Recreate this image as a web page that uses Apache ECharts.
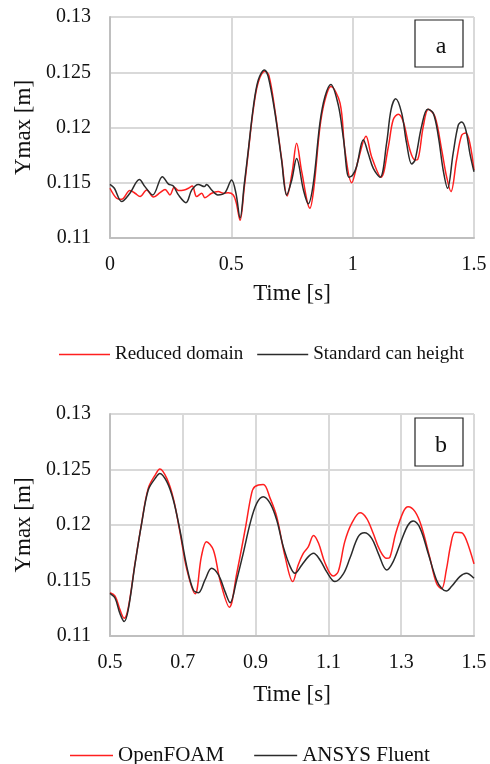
<!DOCTYPE html>
<html>
<head>
<meta charset="utf-8">
<script src="https://cdn.jsdelivr.net/npm/echarts@6/dist/echarts.min.js"></script>
<style>
html,body{margin:0;padding:0;background:#fff;}
#chart{width:490px;height:764px;}
</style>
</head>
<body>
<div id="chart"></div>
<script>
// ---- Panel (a) ----
var timeA_std = [0, 0.018, 0.048, 0.082, 0.121, 0.144, 0.176, 0.216, 0.24, 0.261, 0.282, 0.313, 0.337, 0.364, 0.389, 0.398, 0.419, 0.444, 0.474, 0.501, 0.519, 0.536, 0.553, 0.570, 0.591, 0.611, 0.636, 0.652, 0.68, 0.707, 0.728, 0.749, 0.769, 0.797, 0.817, 0.838, 0.865, 0.886, 0.91, 0.941, 0.962, 0.985, 1.0, 1.016, 1.044, 1.064, 1.085, 1.113, 1.14, 1.158, 1.177, 1.202, 1.222, 1.243, 1.257, 1.284, 1.309, 1.332, 1.353, 1.373, 1.391, 1.414, 1.435, 1.449, 1.466, 1.483, 1.5];
var ymaxA_std = [114.86, 114.5, 113.3, 114.05, 115.3, 114.65, 113.9, 115.55, 114.9, 114.7, 113.9, 113.2, 114.35, 114.85, 114.65, 114.85, 114.35, 113.9, 114.1, 115.25, 114.05, 111.8, 114.8, 117.96, 121.9, 124.3, 125.2, 124.6, 121.3, 117.06, 113.9, 115.25, 117.2, 114.35, 113.1, 114.95, 120.4, 122.8, 123.9, 122.0, 119.0, 115.5, 115.7, 116.45, 118.9, 117.66, 116.3, 115.5, 118.6, 121.6, 122.6, 121.3, 118.6, 116.7, 117.06, 120.1, 121.65, 121.3, 119.2, 116.15, 114.5, 117.66, 120.2, 120.5, 119.8, 117.66, 116.0];
var timeA_red = [0, 0.027, 0.048, 0.082, 0.103, 0.124, 0.151, 0.179, 0.206, 0.227, 0.247, 0.265, 0.282, 0.306, 0.323, 0.339, 0.357, 0.378, 0.391, 0.419, 0.446, 0.467, 0.487, 0.508, 0.52, 0.536, 0.553, 0.570, 0.591, 0.611, 0.638, 0.655, 0.68, 0.707, 0.73, 0.751, 0.769, 0.79, 0.824, 0.84, 0.865, 0.886, 0.91, 0.948, 0.968, 0.996, 1.023, 1.055, 1.078, 1.117, 1.147, 1.167, 1.188, 1.209, 1.236, 1.257, 1.268, 1.291, 1.312, 1.339, 1.367, 1.387, 1.405, 1.428, 1.449, 1.466, 1.483, 1.5];
var ymaxA_red = [114.5, 113.6, 113.5, 114.3, 114.05, 113.75, 114.35, 113.7, 114.1, 114.4, 113.9, 114.6, 114.3, 114.35, 114.5, 114.7, 113.75, 114.05, 113.65, 114.05, 114.2, 114.05, 114.1, 113.9, 113.2, 111.6, 114.5, 117.8, 121.7, 124.1, 125.1, 124.7, 121.5, 117.2, 113.8, 116.0, 118.57, 116.0, 112.7, 114.5, 120.0, 122.5, 123.7, 122.2, 117.96, 115.0, 117.06, 119.2, 117.36, 115.5, 118.26, 120.7, 121.2, 120.5, 117.96, 117.06, 117.1, 120.1, 121.65, 121.0, 117.96, 115.55, 114.2, 117.06, 119.3, 119.5, 118.57, 116.15];

// ---- Panel (b) ----
var timeB_fluent = [0.5, 0.514, 0.527, 0.539, 0.55, 0.569, 0.587, 0.605, 0.624, 0.637, 0.656, 0.674, 0.692, 0.711, 0.729, 0.743, 0.761, 0.779, 0.798, 0.816, 0.83, 0.848, 0.866, 0.885, 0.903, 0.921, 0.94, 0.958, 0.976, 0.995, 1.008, 1.027, 1.045, 1.059, 1.077, 1.095, 1.118, 1.141, 1.159, 1.182, 1.199, 1.219, 1.237, 1.26, 1.278, 1.301, 1.319, 1.333, 1.352, 1.374, 1.397, 1.411, 1.424, 1.438, 1.461, 1.479, 1.5];
var ymaxB_fluent = [113.85, 113.4, 112.05, 111.3, 112.35, 116.55, 120.15, 123.15, 124.2, 124.65, 123.9, 122.25, 119.55, 116.25, 114.15, 113.9, 115.05, 116.1, 115.5, 114.0, 113.0, 115.05, 117.45, 120.15, 121.95, 122.55, 121.95, 120.45, 118.05, 116.25, 115.65, 116.4, 117.15, 117.45, 116.85, 115.8, 114.9, 115.6, 117.0, 118.95, 119.3, 118.8, 117.45, 115.95, 116.7, 118.65, 120.0, 120.35, 119.7, 117.45, 115.05, 114.3, 114.05, 114.45, 115.35, 115.65, 115.2];
var timeB_foam = [0.5, 0.514, 0.527, 0.539, 0.55, 0.569, 0.587, 0.605, 0.624, 0.637, 0.656, 0.674, 0.692, 0.711, 0.734, 0.751, 0.765, 0.784, 0.802, 0.828, 0.848, 0.871, 0.889, 0.898, 0.921, 0.94, 0.958, 0.981, 1.002, 1.017, 1.031, 1.045, 1.059, 1.073, 1.091, 1.113, 1.127, 1.145, 1.164, 1.187, 1.205, 1.223, 1.241, 1.26, 1.269, 1.285, 1.306, 1.319, 1.338, 1.356, 1.379, 1.397, 1.411, 1.424, 1.436, 1.448, 1.466, 1.479, 1.5];
var ymaxB_foam = [113.9, 113.6, 112.4, 111.6, 112.5, 116.6, 120.2, 123.3, 124.5, 125.05, 124.2, 122.4, 119.4, 116.0, 113.8, 117.15, 118.5, 117.75, 115.05, 112.6, 115.6, 119.55, 122.85, 123.45, 123.65, 122.4, 120.75, 117.15, 114.9, 116.4, 117.45, 118.05, 119.05, 118.35, 116.55, 115.4, 115.8, 118.5, 120.15, 121.1, 120.6, 119.25, 117.75, 117.0, 117.1, 119.25, 121.2, 121.65, 121.2, 119.85, 117.0, 114.75, 114.25, 115.95, 118.2, 119.35, 119.3, 118.65, 116.5];

var xTicksA = [0, 0.5, 1, 1.5];
var xTicksB = [0.5, 0.7, 0.9, 1.1, 1.3, 1.5];
var yTicks = [0.11, 0.115, 0.12, 0.125, 0.13];

var seriesNames = ['Reduced domain', 'Standard can height', 'OpenFOAM', 'ANSYS Fluent'];
var panelLabels = ['a', 'b'];

function pairs(ts, vs) {
  return ts.map(function (t, i) { return [t, vs[i] / 1000]; });
}

var FONT = 'Liberation Serif';
var TXT = '#111';
var GRID = '#d9d9d9';
var AXIS = '#bfbfbf';
var RED = '#ff1f1f';
var BLACK = '#2b2b2b';

function xAxisCfg(idx, ticks, min, max, interval, gap) {
  return {
    type: 'value', gridIndex: idx, min: min, max: max, interval: interval,
    name: 'Time [s]', nameLocation: 'middle', nameGap: gap,
    nameTextStyle: { fontFamily: FONT, fontSize: 23, color: TXT },
    axisLine: { show: true, lineStyle: { color: AXIS, width: 2 } },
    axisTick: { show: false },
    splitLine: { show: true, lineStyle: { color: GRID, width: 2 } },
    axisLabel: { margin: 17, fontFamily: FONT, fontSize: 20, color: TXT,
      formatter: function (v) { return String(+v.toFixed(2)); } }
  };
}
function yAxisCfg(idx) {
  return {
    type: 'value', gridIndex: idx, min: yTicks[0], max: yTicks[yTicks.length - 1], interval: 0.005,
    name: 'Ymax [m]', nameLocation: 'middle', nameGap: 73,
    nameTextStyle: { fontFamily: FONT, fontSize: 23, color: TXT },
    axisLine: { show: true, lineStyle: { color: AXIS, width: 2 } },
    axisTick: { show: false },
    splitLine: { show: true, lineStyle: { color: GRID, width: 2 } },
    axisLabel: { margin: 19, fontFamily: FONT, fontSize: 20, color: TXT,
      formatter: function (v) { return String(+v.toFixed(3)); } }
  };
}
function lineSeries(name, idx, data, color) {
  return {
    name: name, type: 'line', xAxisIndex: idx, yAxisIndex: idx,
    data: data, smooth: 0.35, showSymbol: false, symbol: 'none',
    lineStyle: { color: color, width: 1.5 }, itemStyle: { color: color },
    animation: false
  };
}

var chart = echarts.init(document.getElementById('chart'), null, { renderer: 'canvas' });
chart.setOption({
  animation: false,
  backgroundColor: '#fff',
  grid: [
    { left: 110, top: 17, width: 364, height: 221 },
    { left: 110, top: 414, width: 364, height: 222 }
  ],
  xAxis: [
    xAxisCfg(0, xTicksA, xTicksA[0], xTicksA[xTicksA.length - 1], 0.5, 44),
    xAxisCfg(1, xTicksB, xTicksB[0], xTicksB[xTicksB.length - 1], 0.2, 47)
  ],
  yAxis: [yAxisCfg(0), yAxisCfg(1)],
  legend: [
    { data: [seriesNames[0], seriesNames[1]], left: 59, top: 345, width: 430, padding: 0, icon: 'rect', itemWidth: 51, itemHeight: 1.5, itemGap: 14,
      textStyle: { fontFamily: FONT, fontSize: 19, color: TXT } },
    { data: [seriesNames[2], seriesNames[3]], left: 70, top: 745, width: 420, padding: 0, icon: 'rect', itemWidth: 43, itemHeight: 1.5, itemGap: 30,
      textStyle: { fontFamily: FONT, fontSize: 21, color: TXT } }
  ],
  series: [
    lineSeries(seriesNames[0], 0, pairs(timeA_red, ymaxA_red), RED),
    lineSeries(seriesNames[1], 0, pairs(timeA_std, ymaxA_std), BLACK),
    lineSeries(seriesNames[2], 1, pairs(timeB_foam, ymaxB_foam), RED),
    lineSeries(seriesNames[3], 1, pairs(timeB_fluent, ymaxB_fluent), BLACK)
  ],
  graphic: [
    { type: 'rect', shape: { x: 415, y: 20, width: 48, height: 47 }, style: { fill: '#fff', stroke: '#222', lineWidth: 1.2 } },
    { type: 'text', x: 441, y: 47, style: { text: panelLabels[0], font: '24px "Liberation Serif"', fill: TXT, align: 'center', verticalAlign: 'middle' } },
    { type: 'rect', shape: { x: 415, y: 418, width: 48, height: 48 }, style: { fill: '#fff', stroke: '#222', lineWidth: 1.2 } },
    { type: 'text', x: 441, y: 446, style: { text: panelLabels[1], font: '24px "Liberation Serif"', fill: TXT, align: 'center', verticalAlign: 'middle' } }
  ]
});
</script>
</body>
</html>
